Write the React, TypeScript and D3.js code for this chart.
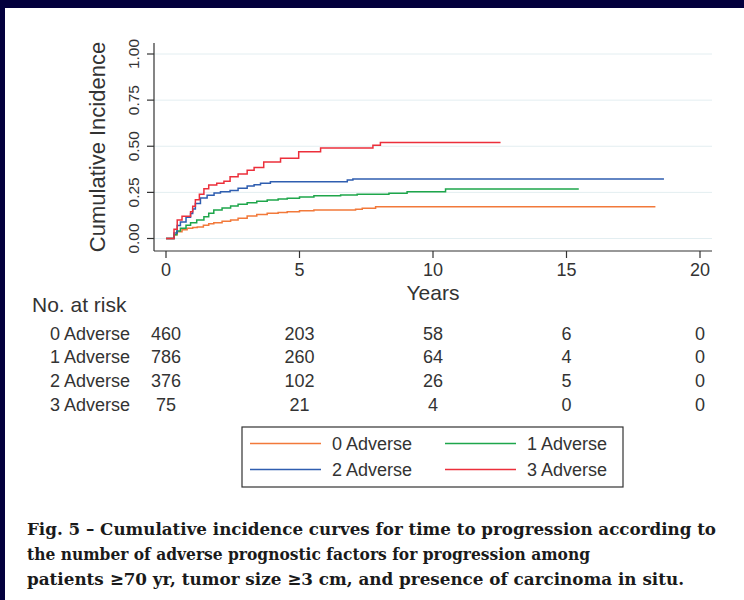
import React from "react";
import * as d3 from "d3";

const groups = ["0 Adverse", "1 Adverse", "2 Adverse", "3 Adverse"];
const colors = ["#f2793a", "#1ea64b", "#2f5eb0", "#ec2f3b"];

// [years, cumulative incidence]
const adverse0: [number, number][] = [
  [0, 0], [0.2, 0], [0.3, 0.02], [0.42, 0.037], [0.6, 0.048], [0.79, 0.055], [1.0, 0.06],
  [1.17, 0.063], [1.4, 0.072], [1.6, 0.08], [1.79, 0.086], [2.1, 0.093], [2.42, 0.1],
  [2.7, 0.11], [3.04, 0.122], [3.4, 0.13], [3.79, 0.137], [4.2, 0.141], [4.54, 0.145],
  [5.0, 0.15], [5.54, 0.154], [7.1, 0.158], [7.35, 0.164], [7.85, 0.172], [18.33, 0.172],
];
const adverse1: [number, number][] = [
  [0, 0], [0.2, 0], [0.3, 0.02], [0.4, 0.04], [0.54, 0.055], [0.75, 0.072], [0.92, 0.086],
  [1.15, 0.1], [1.42, 0.118], [1.6, 0.137], [1.79, 0.154], [2.1, 0.165], [2.42, 0.176],
  [2.7, 0.186], [3.04, 0.194], [3.4, 0.202], [3.79, 0.209], [4.2, 0.214], [4.54, 0.218],
  [5.0, 0.225], [5.54, 0.232], [6.54, 0.236], [7.16, 0.24], [8.35, 0.245], [9.03, 0.254],
  [10.47, 0.268], [15.46, 0.268],
];
const adverse2: [number, number][] = [
  [0, 0], [0.2, 0], [0.3, 0.03], [0.42, 0.07], [0.54, 0.09], [0.75, 0.115], [0.92, 0.135],
  [1.0, 0.16], [1.1, 0.19], [1.29, 0.22], [1.54, 0.235], [1.8, 0.246], [2.04, 0.254],
  [2.4, 0.26], [2.7, 0.272], [3.04, 0.285], [3.3, 0.292], [3.54, 0.3], [3.91, 0.308],
  [6.79, 0.317], [7.0, 0.322], [18.65, 0.322],
];
const adverse3: [number, number][] = [
  [0, 0], [0.2, 0], [0.3, 0.05], [0.42, 0.1], [0.6, 0.12], [0.92, 0.145], [1.0, 0.175],
  [1.1, 0.21], [1.25, 0.24], [1.42, 0.27], [1.6, 0.29], [1.9, 0.3], [2.17, 0.31],
  [2.4, 0.335], [2.7, 0.35], [3.04, 0.37], [3.3, 0.385], [3.66, 0.415], [4.29, 0.435],
  [4.97, 0.47], [5.79, 0.49], [7.47, 0.49], [7.75, 0.505], [8.03, 0.52], [12.53, 0.52],
];
const series = [adverse0, adverse1, adverse2, adverse3];

const xTicks = [0, 5, 10, 15, 20];
const yTicks = [0, 0.25, 0.5, 0.75, 1];
const atRisk = [
  [460, 203, 58, 6, 0],
  [786, 260, 64, 4, 0],
  [376, 102, 26, 5, 0],
  [75, 21, 4, 0, 0],
];
const captionLines = [
  "Fig. 5 – Cumulative incidence curves for time to progression according to",
  "the number of adverse prognostic factors for progression among",
  "patients ≥70 yr, tumor size ≥3 cm, and presence of carcinoma in situ.",
];
const captionWidths = [689, 563, 657];

export default function App() {
  const W = 744, H = 600;
  const x = d3.scaleLinear().domain([0, 20]).range([166, 700]);
  const y = d3.scaleLinear().domain([0, 1]).range([238.5, 54]);
  const line = d3
    .line<[number, number]>()
    .x((d) => x(d[0]))
    .y((d) => y(d[1]))
    .curve(d3.curveStepAfter);
  const axisX0 = 154, axisX1 = 712, axisY = 251, axisTop = 43;
  const font = "'Liberation Sans', Arial, sans-serif";
  const tc = "#333";
  const rowY = [339.5, 363, 387, 410.5];

  return (
    <svg
      width={W}
      height={H}
      style={{ position: "absolute", left: 0, top: 0, display: "block" }}
      fontFamily={font}
    >
      <rect x={0} y={0} width={W} height={H} fill="#03003d" />
      <rect x={5} y={8} width={W - 5} height={H - 8} fill="#ffffff" />

      {/* gridlines */}
      {yTicks.map((t) => (
        <line key={"g" + t} x1={axisX0} x2={axisX1} y1={y(t)} y2={y(t)} stroke="#e3eef1" strokeWidth={1} />
      ))}

      {/* axes */}
      <line x1={axisX0} x2={axisX0} y1={axisTop} y2={axisY} stroke={tc} strokeWidth={1.2} />
      <line x1={axisX0} x2={axisX1} y1={axisY} y2={axisY} stroke={tc} strokeWidth={1.2} />
      {yTicks.map((t) => (
        <g key={"y" + t}>
          <line x1={axisX0 - 7} x2={axisX0} y1={y(t)} y2={y(t)} stroke={tc} strokeWidth={1.2} />
          <text
            transform={`translate(139,${y(t)}) rotate(-90)`}
            textAnchor="middle"
            fontSize={15.5}
            fill={tc}
          >
            {t.toFixed(2)}
          </text>
        </g>
      ))}
      {xTicks.map((t) => (
        <g key={"x" + t}>
          <line x1={x(t)} x2={x(t)} y1={axisY} y2={axisY + 7} stroke={tc} strokeWidth={1.2} />
          <text x={x(t)} y={276} textAnchor="middle" fontSize={18} fill={tc}>
            {t}
          </text>
        </g>
      ))}
      <text transform="translate(105,147) rotate(-90)" textAnchor="middle" fontSize={22} fill={tc}>
        Cumulative Incidence
      </text>
      <text x={(axisX0 + axisX1) / 2} y={300} textAnchor="middle" fontSize={21} fill={tc}>
        Years
      </text>

      {/* curves */}
      {series.map((s, i) => (
        <path key={"s" + i} d={line(s) || ""} fill="none" stroke={colors[i]} strokeWidth={1.5} />
      ))}

      {/* number at risk */}
      <text x={32} y={311.5} fontSize={21} fill={tc}>
        No. at risk
      </text>
      {groups.map((g, i) => (
        <g key={"r" + i}>
          <text x={130} y={rowY[i]} textAnchor="end" fontSize={18} fill={tc}>
            {g}
          </text>
          {atRisk[i].map((n, j) => (
            <text key={j} x={x(xTicks[j])} y={rowY[i]} textAnchor="middle" fontSize={18} fill={tc}>
              {n}
            </text>
          ))}
        </g>
      ))}

      {/* legend */}
      <rect x={242} y={427} width={381} height={60} fill="#fff" stroke="#333" strokeWidth={1.2} />
      {groups.map((g, i) => {
        const col = i % 2;
        const row = Math.floor(i / 2);
        const cy = [443.5, 469.5][row];
        const lx = [250, 445][col];
        return (
          <g key={"l" + i}>
            <line x1={lx} x2={lx + 71} y1={cy} y2={cy} stroke={colors[i]} strokeWidth={1.5} />
            <text x={lx + 82} y={cy + 6.5} fontSize={18} fill={tc}>
              {g}
            </text>
          </g>
        );
      })}

      {/* caption */}
      {captionLines.map((c, i) => (
        <text
          key={"c" + i}
          x={27}
          y={535 + i * 25}
          fontSize={17.5}
          fontWeight="bold"
          fontFamily="'DejaVu Serif Condensed', 'DejaVu Serif', serif"
          fill="#1a1a1a"
          textLength={captionWidths[i]}
          lengthAdjust="spacingAndGlyphs"
        >
          {c}
        </text>
      ))}
    </svg>
  );
}
